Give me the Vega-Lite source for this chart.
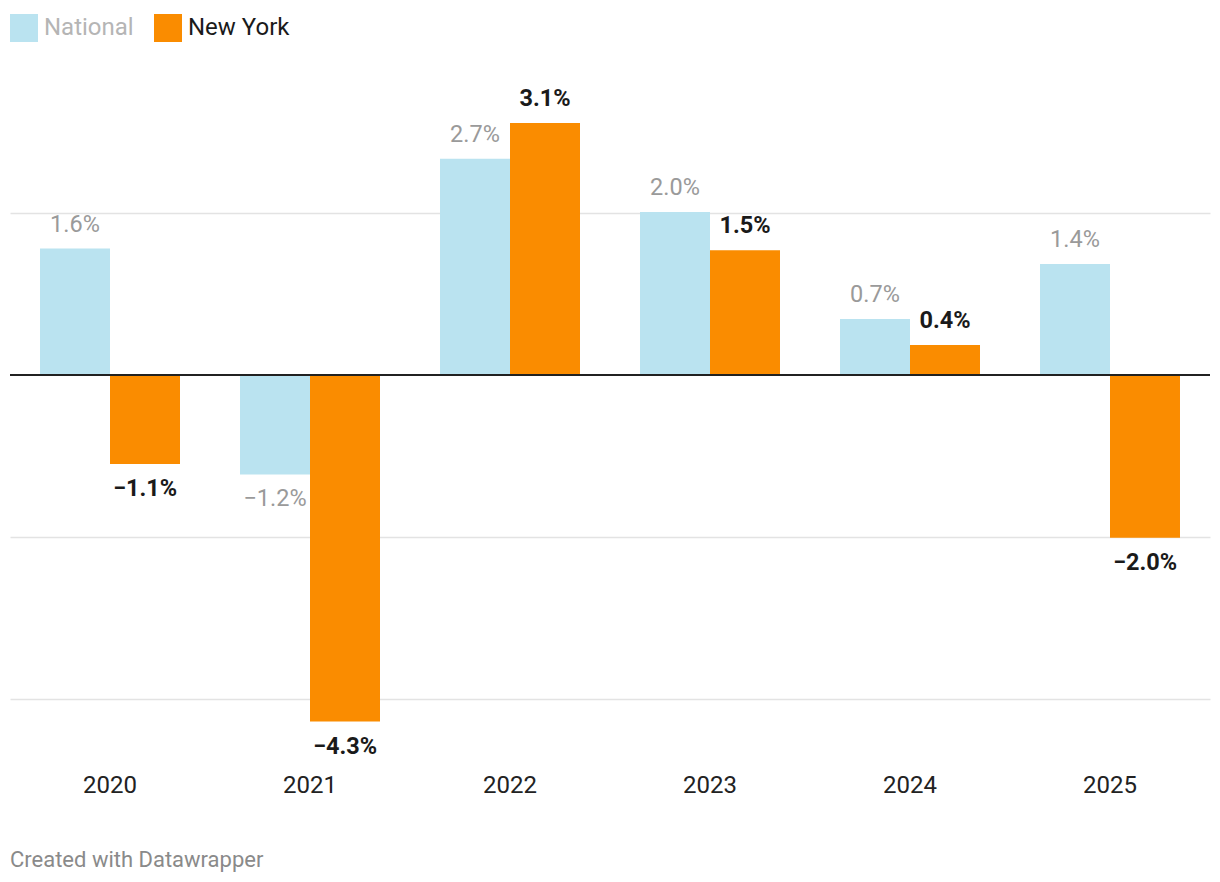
{
  "$schema": "https://vega.github.io/schema/vega-lite/v6.json",
  "autosize": {"type": "none"},
  "width": 1200,
  "height": 696.6,
  "padding": {"left": 10, "top": 59, "right": 10, "bottom": 126},
  "background": "white",
  "config": {
    "font": "Roboto",
    "view": {"stroke": null}
  },
  "title": {
    "text": "Created with Datawrapper",
    "orient": "bottom",
    "anchor": "start",
    "frame": "group",
    "font": "Roboto",
    "fontSize": 22,
    "fontWeight": "normal",
    "color": "#8a8a8a",
    "offset": 52
  },
  "data": {
    "values": [
      {"year": "2020", "series": "National", "value": 0.0156},
      {"year": "2020", "series": "New York", "value": -0.011},
      {"year": "2021", "series": "National", "value": -0.0123},
      {"year": "2021", "series": "New York", "value": -0.0428},
      {"year": "2022", "series": "National", "value": 0.0267},
      {"year": "2022", "series": "New York", "value": 0.0311},
      {"year": "2023", "series": "National", "value": 0.0201},
      {"year": "2023", "series": "New York", "value": 0.0154},
      {"year": "2024", "series": "National", "value": 0.0069},
      {"year": "2024", "series": "New York", "value": 0.0037},
      {"year": "2025", "series": "National", "value": 0.0137},
      {"year": "2025", "series": "New York", "value": -0.0201}
    ]
  },
  "encoding": {
    "x": {
      "field": "year",
      "type": "nominal",
      "scale": {"paddingInner": 0.3, "paddingOuter": 0.15},
      "axis": {
        "title": null,
        "orient": "bottom",
        "labelAngle": 0,
        "labelFont": "Roboto",
        "labelFontSize": 24,
        "labelColor": "#222222",
        "labelPadding": 18,
        "domain": false,
        "ticks": false
      }
    },
    "xOffset": {"field": "series", "type": "nominal", "scale": {"paddingInner": 0, "paddingOuter": 0}},
    "y": {
      "field": "value",
      "type": "quantitative",
      "scale": {"domain": [-0.047, 0.039], "nice": false, "zero": false},
      "axis": {
        "title": null,
        "values": [-0.04, -0.02, 0.02],
        "labels": false,
        "ticks": false,
        "domain": false,
        "grid": true,
        "gridColor": "#e3e3e3",
        "gridWidth": 1.5
      }
    }
  },
  "layer": [
    {
      "mark": {"type": "bar"},
      "encoding": {
        "color": {
          "field": "series",
          "type": "nominal",
          "scale": {"domain": ["National", "New York"], "range": ["#bae3f0", "#fa8c00"]},
          "legend": {
            "title": null,
            "orient": "none",
            "legendX": 0,
            "legendY": -45,
            "direction": "horizontal",
            "symbolType": "square",
            "symbolSize": 784,
            "symbolStrokeWidth": 0,
            "labelFont": "Roboto",
            "labelFontSize": 24,
            "labelOffset": 6,
            "columnPadding": 20,
            "encode": {
              "labels": {
                "update": {
                  "fill": {"signal": "datum.label === 'National' ? '#b5b5b5' : '#1a1a1a'"}
                }
              }
            }
          }
        }
      }
    },
    {
      "mark": {"type": "rule", "color": "#222222", "strokeWidth": 1.5},
      "encoding": {
        "y": {"datum": 0},
        "x": {"value": 0},
        "x2": {"value": 1200},
        "xOffset": null
      }
    },
    {
      "transform": [{"filter": "datum.series === 'National' && datum.value >= 0"}],
      "mark": {"type": "text", "baseline": "middle", "dy": -24, "fontSize": 23.5, "color": "#9a9a9a"},
      "encoding": {"text": {"field": "value", "format": ".1%"}}
    },
    {
      "transform": [{"filter": "datum.series === 'National' && datum.value < 0"}],
      "mark": {"type": "text", "baseline": "middle", "dy": 24, "fontSize": 23.5, "color": "#9a9a9a"},
      "encoding": {"text": {"field": "value", "format": ".1%"}}
    },
    {
      "transform": [{"filter": "datum.series === 'New York' && datum.value >= 0"}],
      "mark": {"type": "text", "baseline": "middle", "dy": -24, "fontSize": 23.5, "fontWeight": "bold", "color": "#1a1a1a"},
      "encoding": {"text": {"field": "value", "format": ".1%"}}
    },
    {
      "transform": [{"filter": "datum.series === 'New York' && datum.value < 0"}],
      "mark": {"type": "text", "baseline": "middle", "dy": 25, "fontSize": 23.5, "fontWeight": "bold", "color": "#1a1a1a"},
      "encoding": {"text": {"field": "value", "format": ".1%"}}
    }
  ]
}
